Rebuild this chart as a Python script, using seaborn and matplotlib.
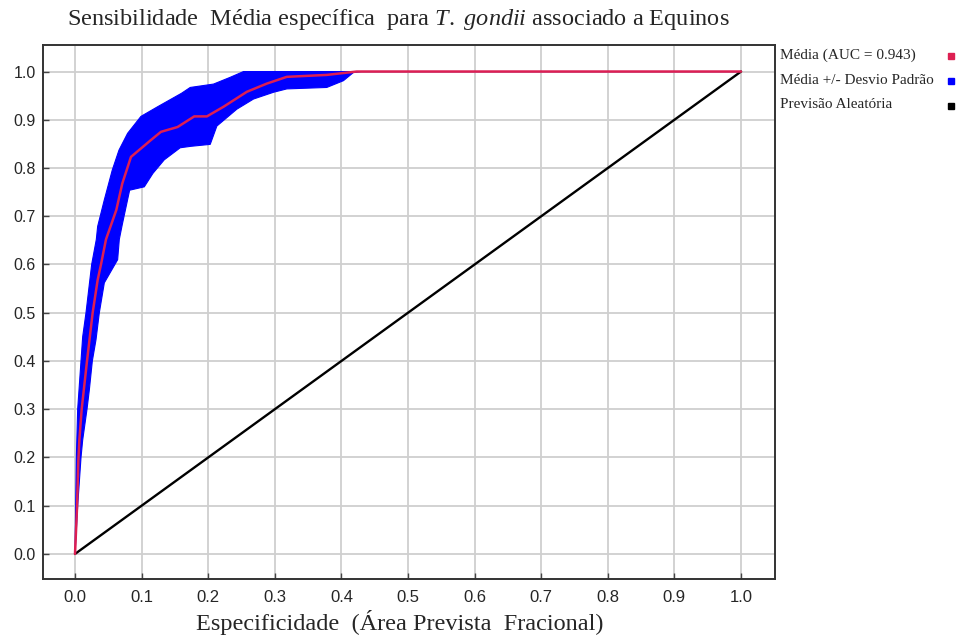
import numpy as np
import pandas as pd
import seaborn as sns
import matplotlib
matplotlib.use("Agg")
import matplotlib.pyplot as plt
from matplotlib.lines import Line2D
from matplotlib import font_manager

# Mean ROC curve (fractional predicted area vs. sensitivity)
mean_fpr = [0.0, 0.003, 0.005, 0.0065, 0.010, 0.018, 0.0265, 0.034, 0.039, 0.0465,
            0.062, 0.071, 0.084, 0.114, 0.129, 0.154, 0.179, 0.198, 0.223, 0.258,
            0.288, 0.318, 0.378, 0.423, 1.0]
mean_tpr = [0.0, 0.096, 0.193, 0.236, 0.300, 0.400, 0.500, 0.568, 0.600, 0.652,
            0.713, 0.768, 0.823, 0.858, 0.875, 0.885, 0.907, 0.907, 0.927, 0.958,
            0.975, 0.989, 0.993, 1.0, 1.0]

# Mean + standard deviation (upper edge of the band)
upper_fpr = [0.0, 0.001, 0.002, 0.004, 0.009, 0.0115, 0.0165, 0.025, 0.032, 0.034,
             0.044, 0.056, 0.066, 0.079, 0.099, 0.124, 0.160, 0.173, 0.208, 0.233,
             0.253, 1.0]
upper_tpr = [0.0, 0.10, 0.20, 0.30, 0.40, 0.45, 0.50, 0.60, 0.652, 0.679,
             0.734, 0.796, 0.837, 0.872, 0.907, 0.927, 0.955, 0.967, 0.974, 0.988,
             1.0, 1.0]

# Mean - standard deviation (lower edge of the band)
lower_fpr = [0.0, 0.004, 0.009, 0.0115, 0.018, 0.0215, 0.026, 0.0315, 0.0365, 0.044,
             0.064, 0.0665, 0.071, 0.082, 0.104, 0.117, 0.134, 0.158, 0.174, 0.203,
             0.213, 0.243, 0.268, 0.298, 0.318, 0.378, 0.403, 0.418, 0.430, 1.0]
lower_tpr = [0.0, 0.10, 0.20, 0.236, 0.30, 0.34, 0.40, 0.444, 0.50, 0.562,
             0.61, 0.652, 0.683, 0.754, 0.761, 0.789, 0.817, 0.842, 0.845, 0.849,
             0.887, 0.922, 0.943, 0.957, 0.964, 0.967, 0.981, 0.998, 1.0, 1.0]

# Random prediction reference line
random_x = [0.0, 1.0]
random_y = [0.0, 1.0]

auc = 0.943
ticks = [0.0, 0.1, 0.2, 0.3, 0.4, 0.5, 0.6, 0.7, 0.8, 0.9, 1.0]
tick_labels = [f"{t:.1f}" for t in ticks]

title_text = (r"Sensibilidade  Média específica  para $\mathit{T.}$ $\mathit{gondii}$"
              r" associado a Equinos")
xlabel_text = "Especificidade  (Área Prevista  Fracional)"
legend_labels = [f"Média (AUC = {auc:.3f})", "Média +/- Desvio Padrão", "Previsão Aleatória"]

RED = "#dd1f52"
BLUE = "#0000ff"
legend_colors = [RED, BLUE, "black"]

sns.set_style("white")
plt.rcParams["font.family"] = ["Liberation Serif", "DejaVu Serif"]
plt.rcParams["mathtext.fontset"] = "custom"
plt.rcParams["mathtext.rm"] = "Liberation Serif"
plt.rcParams["mathtext.it"] = "Liberation Serif:italic"

available = {f.name for f in font_manager.fontManager.ttflist}
narrow = "Liberation Sans Narrow" if "Liberation Sans Narrow" in available else "Liberation Sans"

W, H = 962, 642
fig = plt.figure(figsize=(W / 100, H / 100), dpi=100)
ax = fig.add_axes([0.0444, 0.0981, 0.7612, 0.8318])

# Standard deviation band
band_x = np.r_[upper_fpr, lower_fpr[::-1]]
band_y = np.r_[upper_tpr, lower_tpr[::-1]]
ax.fill(band_x, band_y, color=BLUE, linewidth=0.8, zorder=2)

mean_df = pd.DataFrame({"fpr": mean_fpr, "tpr": mean_tpr})
rand_df = pd.DataFrame({"fpr": random_x, "tpr": random_y})
sns.lineplot(data=rand_df, x="fpr", y="tpr", sort=False, estimator=None,
             color="black", linewidth=1.7, ax=ax, zorder=3)
sns.lineplot(data=mean_df, x="fpr", y="tpr", sort=False, estimator=None,
             color=RED, linewidth=1.8, ax=ax, zorder=4)

ax.set_xlim(-0.0485, 1.051)
ax.set_ylim(-0.052, 1.055)
ax.set_xticks(ticks)
ax.set_yticks(ticks)
ax.set_xticklabels(tick_labels, family=[narrow, "Liberation Sans"], fontsize=12)
ax.set_yticklabels(tick_labels, family=["Liberation Sans"], fontsize=11.5)
ax.tick_params(axis="both", direction="in", length=4, width=1, color="#444444",
               bottom=True, left=True)
ax.tick_params(axis="x", pad=8)
ax.tick_params(axis="y", pad=5)
ax.grid(True, color="#cfcfcf", linewidth=1.3, zorder=0)
ax.set_axisbelow(True)
for s in ax.spines.values():
    s.set_color("#333333")
    s.set_linewidth(1.4)

ax.set_xlabel(xlabel_text, fontsize=17.5, va="center")
ax.xaxis.set_label_coords((400 - 42.7) / (775 - 42.7), (579 - 622) / (579 - 45))
ax.set_ylabel("")
fig.text(0.5 * (62 + 735) / W, 1 - 19 / H, title_text, fontsize=17.5,
         ha="center", va="center")

# Legend to the right of the plot: label text, then a small colour square
for i, (lab, col) in enumerate(zip(legend_labels, legend_colors)):
    ypix = 55 + i * 25
    fig.text(780 / W, 1 - ypix / H, lab, fontsize=11, ha="left", va="center")
    fig.add_artist(Line2D([951 / W], [1 - (ypix + 1) / H], marker="s",
                          linestyle="none", color=col, markersize=4.5,
                          transform=fig.transFigure))

fig.savefig("out.png", dpi=100)
